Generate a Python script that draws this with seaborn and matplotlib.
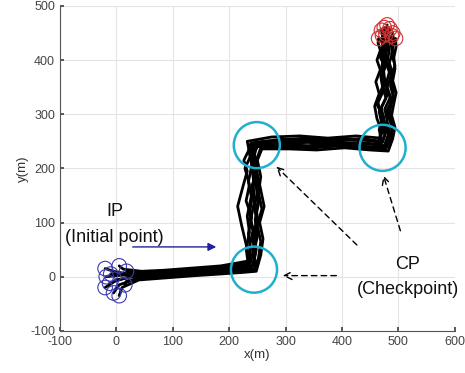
import numpy as np
import pandas as pd
import matplotlib
matplotlib.use("Agg")
import matplotlib.pyplot as plt
import seaborn as sns

# ---- data ----
traj_x = [
    [-20, -5, 20, 60, 110, 160, 205, 232, 238, 234, 240, 230, 236, 228, 240, 246, 280, 330, 380, 430, 468, 476, 470, 466, 478, 472, 468, 476, 470, 474, 470],
    [-18, 0, 30, 70, 120, 170, 210, 236, 242, 246, 238, 244, 240, 248, 242, 250, 290, 340, 390, 440, 474, 482, 478, 484, 486, 480, 488, 480, 484, 478, 480],
    [-20, -2, 25, 65, 115, 165, 215, 240, 246, 242, 250, 244, 252, 246, 250, 256, 300, 350, 400, 445, 478, 486, 490, 484, 488, 492, 486, 494, 488, 492, 490],
    [-5, 5, 35, 80, 130, 180, 220, 244, 252, 256, 250, 258, 252, 256, 250, 258, 305, 355, 405, 450, 482, 490, 494, 488, 492, 496, 490, 494, 492, 496, 495],
    [5, 10, 40, 90, 140, 185, 225, 248, 256, 260, 254, 262, 256, 250, 246, 240, 285, 335, 385, 435, 465, 470, 462, 458, 466, 460, 468, 462, 468, 464, 465],
    [15, 18, 45, 90, 140, 190, 226, 246, 244, 250, 246, 252, 248, 244, 236, 244, 295, 345, 395, 440, 472, 478, 474, 470, 480, 476, 474, 480, 474, 480, 478],
    [18, 20, 50, 95, 145, 190, 222, 236, 230, 222, 215, 224, 232, 226, 234, 238, 285, 335, 385, 435, 470, 466, 474, 462, 468, 476, 470, 474, 478, 482, 485],
    [5, 12, 45, 85, 135, 185, 218, 238, 236, 242, 236, 240, 234, 240, 236, 232, 275, 325, 375, 425, 468, 474, 468, 464, 474, 470, 476, 468, 474, 470, 472],
    [-10, 2, 30, 75, 125, 175, 215, 242, 248, 244, 250, 246, 242, 248, 244, 250, 300, 350, 400, 450, 484, 490, 486, 480, 492, 486, 490, 484, 490, 486, 488],
    [-12, 0, 28, 70, 120, 170, 212, 234, 230, 236, 232, 238, 244, 240, 246, 240, 290, 340, 390, 440, 476, 484, 480, 476, 486, 478, 484, 476, 480, 476, 475],
]
traj_y = [
    [15, 10, 5, 6, 10, 14, 20, 24, 50, 80, 110, 140, 170, 200, 228, 244, 248, 250, 246, 248, 244, 262, 285, 305, 330, 350, 375, 395, 415, 435, 455],
    [0, 2, 4, 6, 9, 12, 16, 18, 45, 75, 105, 135, 165, 195, 225, 240, 244, 242, 246, 240, 238, 262, 282, 305, 328, 350, 372, 395, 420, 442, 465],
    [-20, -8, 0, 3, 6, 10, 14, 16, 40, 70, 100, 130, 160, 190, 220, 238, 240, 238, 242, 238, 236, 258, 280, 300, 322, 345, 368, 390, 412, 432, 450],
    [-30, -15, -4, 0, 3, 6, 10, 12, 35, 65, 95, 125, 155, 185, 215, 236, 236, 234, 238, 234, 232, 255, 276, 298, 320, 340, 362, 384, 405, 425, 440],
    [-35, -20, -6, -2, 2, 5, 8, 10, 40, 70, 100, 130, 160, 190, 222, 246, 252, 256, 252, 255, 250, 270, 292, 315, 338, 360, 382, 400, 418, 432, 440],
    [-15, -8, -2, 2, 5, 8, 12, 14, 45, 75, 105, 135, 165, 195, 228, 248, 254, 252, 256, 252, 248, 268, 290, 312, 335, 358, 380, 400, 420, 436, 448],
    [10, 8, 8, 10, 14, 18, 24, 28, 60, 95, 130, 165, 195, 215, 232, 246, 248, 252, 250, 254, 250, 272, 295, 318, 340, 362, 385, 405, 425, 442, 458],
    [20, 14, 10, 12, 16, 20, 26, 30, 55, 85, 115, 145, 175, 205, 230, 250, 258, 260, 256, 260, 256, 278, 300, 322, 345, 366, 388, 405, 422, 436, 445],
    [5, 4, 4, 6, 8, 12, 16, 20, 50, 80, 110, 140, 170, 200, 226, 242, 242, 240, 244, 240, 240, 262, 285, 308, 330, 352, 374, 395, 415, 432, 445],
    [-12, -6, 0, 4, 8, 12, 18, 22, 52, 82, 112, 142, 172, 202, 230, 246, 246, 248, 244, 246, 242, 265, 288, 310, 332, 355, 378, 400, 422, 442, 460],
]
cp_x = [244, 249, 472]
cp_y = [13, 243, 238]

rows = []
for i, (xs, ys) in enumerate(zip(traj_x, traj_y)):
    for k, (xv, yv) in enumerate(zip(xs, ys)):
        rows.append({"traj": i, "order": k, "x": xv, "y": yv})
df = pd.DataFrame(rows)
starts = pd.DataFrame({"x": [t[0] for t in traj_x], "y": [t[0] for t in traj_y]})
ends = pd.DataFrame({"x": [t[-1] for t in traj_x], "y": [t[-1] for t in traj_y]})
cps = pd.DataFrame({"x": cp_x, "y": cp_y})

sns.set_theme(style="whitegrid")
plt.rcParams["font.family"] = ["Liberation Sans", "DejaVu Sans"]
plt.rcParams["axes.unicode_minus"] = False

fig = plt.figure(figsize=(4.65, 3.73), dpi=100)
ax = fig.add_axes([0.129, 0.113, 0.849, 0.871])

sns.lineplot(data=df, x="x", y="y", units="traj", estimator=None, sort=False,
             color="black", lw=2.0, ax=ax, legend=False)
sns.scatterplot(data=starts, x="x", y="y", marker="o", s=110, facecolors="none",
                edgecolor="#3a3ab0", linewidth=0.8, ax=ax, zorder=4)
sns.scatterplot(data=ends, x="x", y="y", marker="o", s=110, facecolors="none",
                edgecolor="#d03030", linewidth=0.8, ax=ax, zorder=4)
sns.scatterplot(data=cps, x="x", y="y", marker="o", s=1100, facecolors="none",
                edgecolor="#1fb0d0", linewidth=1.8, ax=ax, zorder=5)

ax.set_xlim(-100, 600)
ax.set_ylim(-100, 500)
ax.set_xticks(range(-100, 601, 100))
ax.set_yticks(range(-100, 501, 100))
ax.set_xlabel("x(m)", fontsize=9.5, color="#333333", labelpad=1)
ax.set_ylabel("y(m)", fontsize=9.5, color="#333333", labelpad=1)
ax.tick_params(labelsize=9, colors="#444444", direction="in", length=3,
               bottom=True, left=True)
ax.grid(True, color="#e4e4e4", linewidth=0.8)
for s in ["top", "right"]:
    ax.spines[s].set_visible(False)
for s in ["left", "bottom"]:
    ax.spines[s].set_color("#555555")
    ax.spines[s].set_linewidth(0.8)

ax.text(-3, 120, "IP", fontsize=13, ha="center", va="center", color="#111111")
ax.text(-3, 72, "(Initial point)", fontsize=13, ha="center", va="center", color="#111111")
ax.annotate("", xy=(182, 55), xytext=(24, 55),
            arrowprops=dict(arrowstyle="-|>", color="#2020a0", lw=1.0, mutation_scale=12))

ax.text(517, 23, "CP", fontsize=13, ha="center", va="center", color="#111111")
ax.text(517, -24, "(Checkpoint)", fontsize=13, ha="center", va="center", color="#111111")
dash = dict(arrowstyle="->", color="black", lw=1.0, linestyle=(0, (4, 3)), mutation_scale=14)
ax.annotate("", xy=(290, 2), xytext=(395, 2), arrowprops=dash)
ax.annotate("", xy=(280, 207), xytext=(430, 55), arrowprops=dash)
ax.annotate("", xy=(472, 192), xytext=(505, 80), arrowprops=dash)

fig.savefig("out.png", dpi=100)
